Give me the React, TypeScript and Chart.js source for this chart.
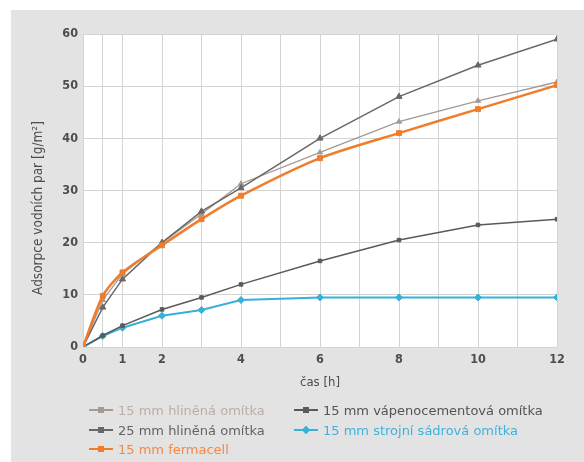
import React, { useEffect, useRef } from 'react';
import { Chart, registerables } from 'chart.js';

Chart.register(...registerables);

const hours = [0, 0.5, 1, 2, 3, 4, 6, 8, 10, 12];
const hlinena15 = [0, 9, 14, 20, 25.5, 31.3, 37.3, 43.2, 47.2, 50.8];
const hlinena25 = [0, 7.6, 13, 20, 26, 30.5, 40, 48, 54, 59];
const fermacell = [0, 9.8, 14.3, 19.5, 24.5, 29, 36.2, 41, 45.6, 50.2];
const vapeno = [0, 2.2, 4.1, 7.2, 9.5, 12, 16.5, 20.5, 23.4, 24.5];
const sadrova = [0, 2.1, 3.7, 6, 7.1, 9, 9.5, 9.5, 9.5, 9.5];

const xGridTicks = [0, 0.5, 1, 2, 3, 4, 5, 6, 7, 8, 9, 10, 11, 12];
const xLabelTicks = [0, 1, 2, 4, 6, 8, 10, 12];
const yTicks = [0, 10, 20, 30, 40, 50, 60];

const yTitle = 'Adsorpce vodních par [g/m²]';
const xTitle = 'čas [h]';

const FONT = '"DejaVu Sans Condensed", "Liberation Sans Narrow", "DejaVu Sans", sans-serif';
const LEGEND_FONT = '"DejaVu Sans", "Noto Sans", sans-serif';

type Series = { label: string; values: number[]; color: string; text: string; width: number; style: string; radius: number; order: number };

const series: Series[] = [
  { label: '15 mm hliněná omítka', values: hlinena15, color: '#a39a94', text: '#bcaea6', width: 1.3, style: 'triangle', radius: 3, order: 2 },
  { label: '25 mm hliněná omítka', values: hlinena25, color: '#6c6664', text: '#666262', width: 1.5, style: 'triangle', radius: 3.5, order: 1 },
  { label: '15 mm fermacell', values: fermacell, color: '#f07d2c', text: '#f08a45', width: 2.6, style: 'rect', radius: 3.5, order: 0 },
  { label: '15 mm vápenocementová omítka', values: vapeno, color: '#5b5959', text: '#555353', width: 1.5, style: 'rect', radius: 2.5, order: 3 },
  { label: '15 mm strojní sádrová omítka', values: sadrova, color: '#37b0da', text: '#3db2dc', width: 2, style: 'rectRot', radius: 3.5, order: 4 },
];

const legendCols = [[0, 1, 2], [3, 4]];

const bgPlugin = {
  id: 'bg',
  beforeDraw(chart: any) {
    const { ctx, chartArea } = chart;
    ctx.save();
    ctx.fillStyle = '#ffffff';
    ctx.fillRect(0, 0, chart.width, chart.height);
    ctx.fillStyle = '#e3e3e3';
    ctx.fillRect(11, 10, chart.width - 11, chart.height - 10);
    ctx.fillStyle = '#ffffff';
    ctx.fillRect(chartArea.left, chartArea.top, chartArea.right - chartArea.left, chartArea.bottom - chartArea.top);
    ctx.restore();
  },
  afterDraw(chart: any) {
    const { ctx } = chart;
    ctx.save();
    ctx.translate(38, 208);
    ctx.rotate(-Math.PI / 2);
    ctx.fillStyle = '#4d4d4d';
    ctx.font = '13.5px ' + FONT;
    ctx.textAlign = 'center';
    ctx.textBaseline = 'middle';
    ctx.fillText(yTitle, 0, 0);
    ctx.restore();
  },
};

export default function App() {
  const ref = useRef<HTMLCanvasElement | null>(null);

  useEffect(() => {
    if (!ref.current) return;
    const chart = new Chart(ref.current, {
      type: 'line',
      data: {
        datasets: series.map((s) => ({
          label: s.label,
          data: hours.map((h, i) => ({ x: h, y: s.values[i] })),
          borderColor: s.color,
          backgroundColor: s.color,
          borderWidth: s.width,
          pointStyle: s.style as any,
          pointRadius: s.radius,
          pointBorderWidth: 1,
          tension: s.label.includes('fermacell') ? 0.25 : 0,
          order: s.order,
        })),
      },
      options: {
        animation: false,
        responsive: false,
        devicePixelRatio: 1,
        layout: { padding: { left: 0, right: 27, top: 34, bottom: 0 } },
        plugins: { legend: { display: false }, tooltip: { enabled: false } },
        scales: {
          x: {
            type: 'linear',
            min: 0,
            max: 12,
            afterBuildTicks: (s: any) => {
              s.ticks = xGridTicks.map((v) => ({ value: v }));
            },
            afterFit: (s: any) => {
              s.height = 115;
            },
            ticks: {
              autoSkip: false,
              maxRotation: 0,
              padding: 5,
              color: '#4d4d4d',
              font: { family: FONT, size: 12.5, weight: 'bold' },
              callback: (v: any) => (xLabelTicks.includes(Number(v)) ? String(v) : ''),
            },
            grid: { color: '#d4d4d4', drawTicks: false, lineWidth: 1 },
            border: { display: false },
            title: {
              display: true,
              text: xTitle,
              color: '#4d4d4d',
              font: { family: FONT, size: 13 },
              padding: { top: 0, bottom: 72 },
            },
          },
          y: {
            min: 0,
            max: 60,
            afterBuildTicks: (s: any) => {
              s.ticks = yTicks.map((v) => ({ value: v }));
            },
            afterFit: (s: any) => {
              s.width = 83;
            },
            ticks: {
              padding: 5,
              color: '#4d4d4d',
              font: { family: FONT, size: 12.5, weight: 'bold' },
            },
            grid: { color: '#d4d4d4', drawTicks: false, lineWidth: 1 },
            border: { display: false },
          },
        },
      },
      plugins: [bgPlugin],
    });
    return () => chart.destroy();
  }, []);

  const colX = [89, 294];
  const rowY = [410, 430, 449];

  return (
    <div style={{ position: 'absolute', left: 0, top: 0, width: 584, height: 462 }}>
      <canvas ref={ref} width={584} height={462} style={{ display: 'block', width: 584, height: 462 }} />
      {legendCols.map((col, ci) =>
        col.map((si, ri) => {
          const s = series[si];
          return (
            <div
              key={s.label}
              style={{
                position: 'absolute',
                left: colX[ci],
                top: rowY[ri] - 9,
                height: 18,
                display: 'flex',
                alignItems: 'center',
                whiteSpace: 'nowrap',
                fontFamily: LEGEND_FONT,
                fontSize: 13,
                color: s.text,
              }}
            >
              <span style={{ position: 'relative', display: 'inline-block', width: 24, height: 18, marginRight: 5 }}>
                <span style={{ position: 'absolute', left: 0, top: 9 - s.width / 2, width: 24, height: s.width, background: s.color }} />
                <span
                  style={{
                    position: 'absolute',
                    left: 9,
                    top: 6,
                    width: 6,
                    height: 6,
                    background: s.color,
                    transform: s.style === 'rectRot' ? 'rotate(45deg)' : 'none',
                  }}
                />
              </span>
              {s.label}
            </div>
          );
        })
      )}
    </div>
  );
}
